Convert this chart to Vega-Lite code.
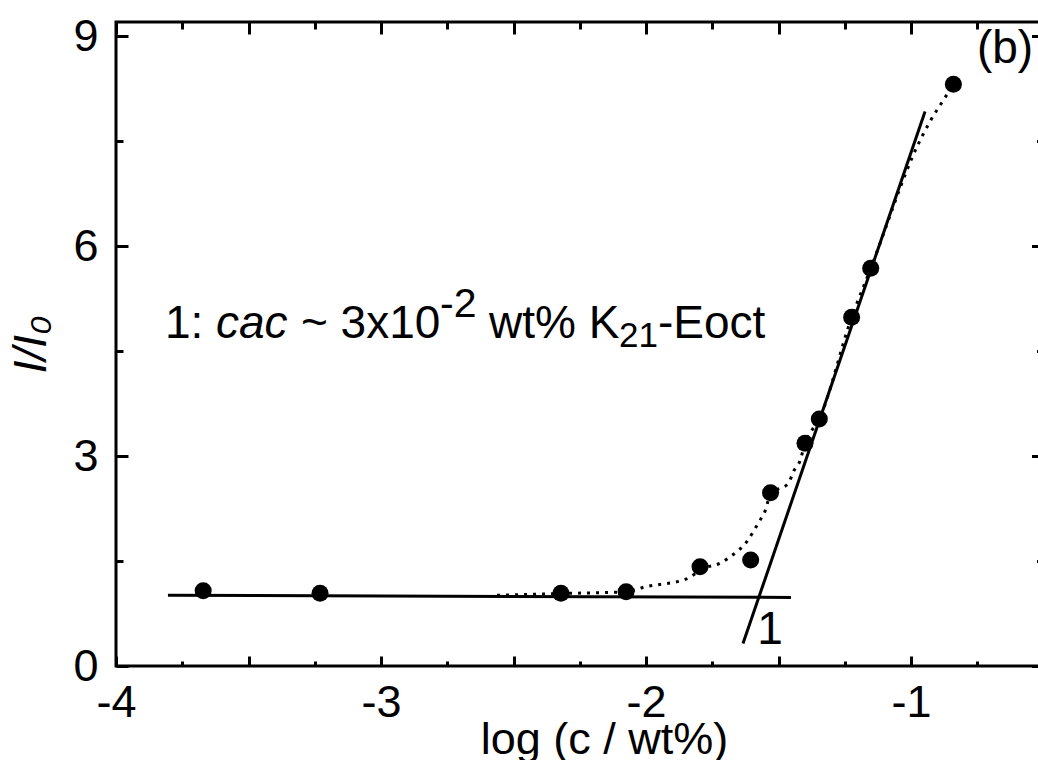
{
  "$schema": "https://vega.github.io/schema/vega-lite/v6.json",
  "width": 927.5,
  "height": 644,
  "autosize": {"type": "none"},
  "padding": {"left": 116, "top": 22, "right": -5.5, "bottom": 94},
  "background": "white",
  "config": {
    "view": {"stroke": "black", "strokeWidth": 3},
    "font": "Liberation Sans",
    "axis": {"grid": false, "domain": false, "tickColor": "black", "tickWidth": 3, "labelColor": "black", "titleColor": "black", "labelFont": "Liberation Sans", "titleFont": "Liberation Sans", "titleFontWeight": "normal", "labelOverlap": false, "labelFlush": false}
  },
  "datasets": {
    "fit": [
      {"x": -3.804, "y": 1.01, "seg": "h"},
      {"x": -1.453, "y": 0.98, "seg": "h"},
      {"x": -1.634, "y": 0.32, "seg": "s"},
      {"x": -0.947, "y": 7.92, "seg": "s"}
    ],
    "curve": [
      {"x": -2.562, "y": 1.01},
      {"x": -2.321, "y": 1.035},
      {"x": -2.075, "y": 1.06},
      {"x": -2.004, "y": 1.13},
      {"x": -1.85, "y": 1.24},
      {"x": -1.78, "y": 1.4},
      {"x": -1.72, "y": 1.47},
      {"x": -1.69, "y": 1.54},
      {"x": -1.615, "y": 1.8},
      {"x": -1.575, "y": 2.05},
      {"x": -1.55, "y": 2.22},
      {"x": -1.53, "y": 2.46},
      {"x": -1.463, "y": 2.61},
      {"x": -1.442, "y": 2.79},
      {"x": -1.42, "y": 2.92},
      {"x": -1.4, "y": 3.18},
      {"x": -1.346, "y": 3.53},
      {"x": -1.224, "y": 4.98},
      {"x": -1.152, "y": 5.68},
      {"x": -0.972, "y": 7.46},
      {"x": -0.928, "y": 7.78},
      {"x": -0.875, "y": 8.1},
      {"x": -0.84, "y": 8.31}
    ],
    "pts": [
      {"x": -3.671, "y": 1.076},
      {"x": -3.23, "y": 1.039},
      {"x": -2.321, "y": 1.039},
      {"x": -2.075, "y": 1.062},
      {"x": -1.796, "y": 1.419},
      {"x": -1.605, "y": 1.514},
      {"x": -1.53, "y": 2.476},
      {"x": -1.4, "y": 3.181},
      {"x": -1.346, "y": 3.529},
      {"x": -1.224, "y": 4.981},
      {"x": -1.152, "y": 5.681},
      {"x": -0.84, "y": 8.31}
    ]
  },
  "layer": [
    {
      "layer": [
        {
          "data": {"name": "fit"},
          "mark": {"type": "line", "color": "black", "strokeWidth": 3},
          "encoding": {
            "x": {"field": "x", "type": "quantitative", "scale": {"domain": [-4, -0.5], "nice": false, "zero": false},
              "axis": {"orient": "bottom", "values": [-4, -3, -2, -1], "ticks": false,
                "labelExpr": "'-' + abs(datum.value)",
                "labelFontSize": 45, "labelPadding": 14,
                "title": "log (c / wt%)", "titleFontSize": 45, "titleX": 488, "titleY": 87, "titleBaseline": "alphabetic", "titleAlign": "center"}},
            "y": {"field": "y", "type": "quantitative", "scale": {"domain": [0, 9.2], "nice": false, "zero": false},
              "axis": {"orient": "left", "values": [0, 3, 6, 9], "ticks": false,
                "labelExpr": "'' + datum.value",
                "labelFontSize": 45, "labelPadding": 18,
                "title": "I/I₀", "titleFontSize": 46, "titleFontStyle": "italic", "titleAngle": 270, "titleX": -71, "titleY": 322, "titleBaseline": "alphabetic", "titleAlign": "center"}},
            "detail": {"field": "seg", "type": "nominal"}
          }
        },
        {
          "data": {"name": "curve"},
          "mark": {"type": "line", "color": "black", "strokeWidth": 3, "strokeDash": [3, 6], "interpolate": "monotone"},
          "encoding": {
            "x": {"field": "x", "type": "quantitative"},
            "y": {"field": "y", "type": "quantitative"}
          }
        },
        {
          "data": {"values": [{"x": -3.815, "y": 4.686, "t": "1:"}]},
          "mark": {"type": "text", "align": "left", "baseline": "alphabetic", "fontSize": 46, "color": "black"},
          "encoding": {"x": {"field": "x", "type": "quantitative"}, "y": {"field": "y", "type": "quantitative"}, "text": {"field": "t"}}
        },
        {
          "data": {"values": [{"x": -3.623, "y": 4.686, "t": "cac"}]},
          "mark": {"type": "text", "align": "left", "baseline": "alphabetic", "fontSize": 46, "fontStyle": "italic", "color": "black"},
          "encoding": {"x": {"field": "x", "type": "quantitative"}, "y": {"field": "y", "type": "quantitative"}, "text": {"field": "t"}}
        },
        {
          "data": {"values": [{"x": -3.302, "y": 4.686, "t": "~ 3x10"}]},
          "mark": {"type": "text", "align": "left", "baseline": "alphabetic", "fontSize": 46, "color": "black"},
          "encoding": {"x": {"field": "x", "type": "quantitative"}, "y": {"field": "y", "type": "quantitative"}, "text": {"field": "t"}}
        },
        {
          "data": {"values": [{"x": -2.777, "y": 4.686, "t": "-2"}]},
          "mark": {"type": "text", "align": "left", "baseline": "alphabetic", "fontSize": 41, "dy": -21, "color": "black"},
          "encoding": {"x": {"field": "x", "type": "quantitative"}, "y": {"field": "y", "type": "quantitative"}, "text": {"field": "t"}}
        },
        {
          "data": {"values": [{"x": -2.592, "y": 4.686, "t": "wt% K"}]},
          "mark": {"type": "text", "align": "left", "baseline": "alphabetic", "fontSize": 46, "color": "black"},
          "encoding": {"x": {"field": "x", "type": "quantitative"}, "y": {"field": "y", "type": "quantitative"}, "text": {"field": "t"}}
        },
        {
          "data": {"values": [{"x": -2.102, "y": 4.686, "t": "21"}]},
          "mark": {"type": "text", "align": "left", "baseline": "alphabetic", "fontSize": 35, "dy": 9, "color": "black"},
          "encoding": {"x": {"field": "x", "type": "quantitative"}, "y": {"field": "y", "type": "quantitative"}, "text": {"field": "t"}}
        },
        {
          "data": {"values": [{"x": -1.955, "y": 4.686, "t": "-Eoct"}]},
          "mark": {"type": "text", "align": "left", "baseline": "alphabetic", "fontSize": 46, "color": "black"},
          "encoding": {"x": {"field": "x", "type": "quantitative"}, "y": {"field": "y", "type": "quantitative"}, "text": {"field": "t"}}
        },
        {
          "data": {"values": [{"x": -1.532, "y": 0.314, "t": "1"}, {"x": -0.645, "y": 8.614, "t": "(b)"}]},
          "mark": {"type": "text", "align": "center", "baseline": "alphabetic", "fontSize": 46, "color": "black"},
          "encoding": {"x": {"field": "x", "type": "quantitative"}, "y": {"field": "y", "type": "quantitative"}, "text": {"field": "t"}}
        }
      ]
    },
    {
      "data": {"name": "pts"},
      "mark": {"type": "circle", "size": 290, "color": "black", "opacity": 1},
      "encoding": {
        "x": {"field": "x", "type": "quantitative", "scale": {"domain": [-4, -0.5], "nice": false, "zero": false},
          "axis": {"orient": "top", "values": [-4, -3.75, -3.5, -3.25, -3, -2.75, -2.5, -2.25, -2, -1.75, -1.5, -1.25, -1, -0.75, -0.5],
            "tickSize": {"condition": {"test": "abs(datum.value % 0.5) < 1e-6", "value": -12}, "value": -7},
            "labels": false,
            "title": "log (c / wt%)", "titleFontSize": 45, "titleX": 488, "titleY": -36, "titleBaseline": "alphabetic", "titleAlign": "center"}},
        "y": {"field": "y", "type": "quantitative", "scale": {"domain": [0, 9.2], "nice": false, "zero": false},
          "axis": {"orient": "right", "values": [0, 1.5, 3, 4.5, 6, 7.5, 9],
            "tickSize": {"condition": {"test": "datum.value % 3 === 0", "value": -12}, "value": -7},
            "labels": false, "title": null}}
      }
    },
    {
      "data": {"name": "pts"},
      "mark": {"type": "circle", "size": 10, "color": "black", "opacity": 0},
      "encoding": {
        "x": {"field": "x", "type": "quantitative", "scale": {"domain": [-4, -0.5], "nice": false, "zero": false},
          "axis": {"orient": "bottom", "values": [-4, -3.75, -3.5, -3.25, -3, -2.75, -2.5, -2.25, -2, -1.75, -1.5, -1.25, -1, -0.75, -0.5],
            "tickSize": {"condition": {"test": "abs(datum.value % 0.5) < 1e-6", "value": -10}, "value": -5},
            "labels": false, "title": null}},
        "y": {"field": "y", "type": "quantitative", "scale": {"domain": [0, 9.2], "nice": false, "zero": false},
          "axis": {"orient": "left", "values": [0, 1.5, 3, 4.5, 6, 7.5, 9],
            "tickSize": {"condition": {"test": "datum.value % 3 === 0", "value": -12}, "value": -7},
            "labels": false, "title": null}}
      }
    }
  ],
  "resolve": {"scale": {"x": "independent", "y": "independent"}}
}
